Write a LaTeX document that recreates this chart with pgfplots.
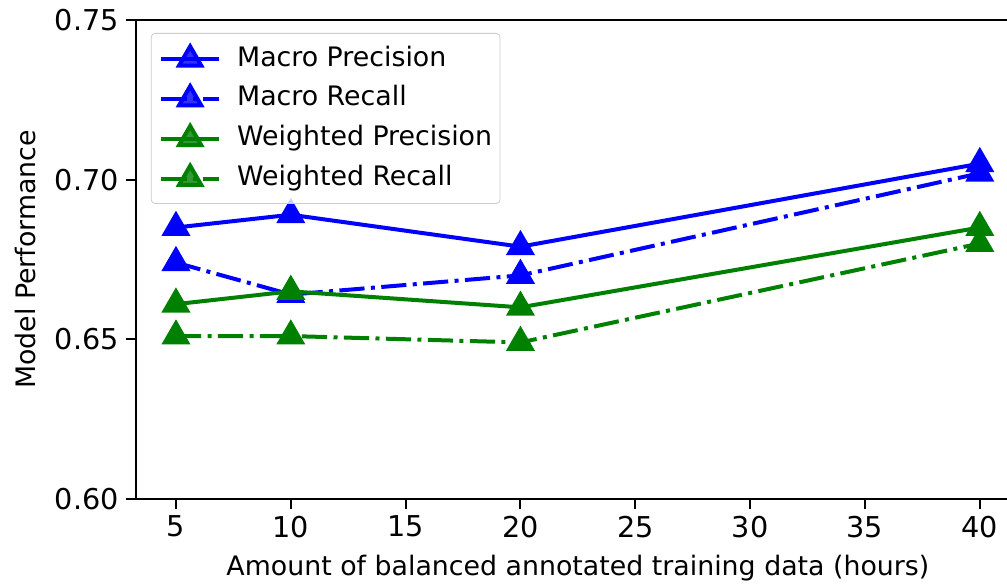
\documentclass[border=0pt]{standalone}
\usepackage{pgfplots}
\pgfplotsset{compat=1.18}
\usepackage{fontspec}
\setmainfont{DejaVu Sans}
\definecolor{mplgreen}{RGB}{0,128,0}
\definecolor{mplblue}{RGB}{0,0,255}
\definecolor{legedge}{gray}{0.8}
\tikzset{dashdot/.style={dash pattern=on 12.6pt off 3.2pt on 2pt off 3.2pt}}
\begin{document}
\begin{tikzpicture}
\begin{axis}[
    scale only axis,
    width=442.2pt, height=239.5pt,
    xmin=3.25, xmax=41.75,
    ymin=0.6, ymax=0.75,
    xtick={5,10,...,40},
    ytick={0.6,0.65,0.7,0.75},
    yticklabel style={/pgf/number format/.cd, fixed, fixed zerofill, precision=2},
    /pgf/number format/assume math mode=true,
    tick label style={font=\fontsize{14.35}{17}\selectfont},
    label style={font=\fontsize{13.4}{16}\selectfont},
    xlabel={Amount of balanced annotated training data (hours)},
    ylabel={Model Performance},
    ylabel style={inner sep=6pt},
    xlabel style={inner sep=5pt},
    tick align=outside,
    major tick length=5pt,
    xtick pos=bottom, ytick pos=left,
    axis line style={line width=1pt, black},
    every tick/.style={line width=1pt, black},
    every axis plot/.append style={line width=2pt, mark size=6.4pt, line cap=butt},
    legend cell align=left,
    legend style={
        at={(0,1)}, anchor=north west, xshift=7.5pt, yshift=-6.5pt,
        draw=legedge, rounded corners=2pt, fill=white, fill opacity=0.8, text opacity=1,
        font=\fontsize{13.4}{16}\selectfont,
        inner xsep=4pt, inner ysep=6.5pt,
        row sep=7.5pt,
        nodes={inner sep=0pt, text height=9.5pt, text depth=2.5pt},
        /tikz/every odd column/.append style={column sep=8pt},
    },
    legend image code/.code={
        \draw[#1, mark repeat=2, mark phase=2] plot coordinates {(0pt,0pt) (14.5pt,0pt) (29pt,0pt)};
    },
]
\addplot[mplblue, solid, mark=triangle*, mark options={solid, draw=none}] coordinates {
    (5,0.685) (10,0.689) (20,0.679) (40,0.705)};
\addlegendentry{Macro Precision}
\addplot[mplblue, dashdot, mark=triangle*, mark options={solid, draw=none}] coordinates {
    (5,0.674) (10,0.664) (20,0.670) (40,0.702)};
\addlegendentry{Macro Recall}
\addplot[mplgreen, solid, mark=triangle*, mark options={solid, draw=none}] coordinates {
    (5,0.661) (10,0.665) (20,0.660) (40,0.685)};
\addlegendentry{Weighted Precision}
\addplot[mplgreen, dashdot, mark=triangle*, mark options={solid, draw=none}] coordinates {
    (5,0.651) (10,0.651) (20,0.649) (40,0.680)};
\addlegendentry{Weighted Recall}
\end{axis}
\pgfresetboundingbox
\path[use as bounding box] ([xshift=-67.9pt,yshift=-43.75pt]current axis.south west)
    rectangle ([xshift=-6.5pt,yshift=10pt]current axis.north east);
\end{tikzpicture}
\end{document}
